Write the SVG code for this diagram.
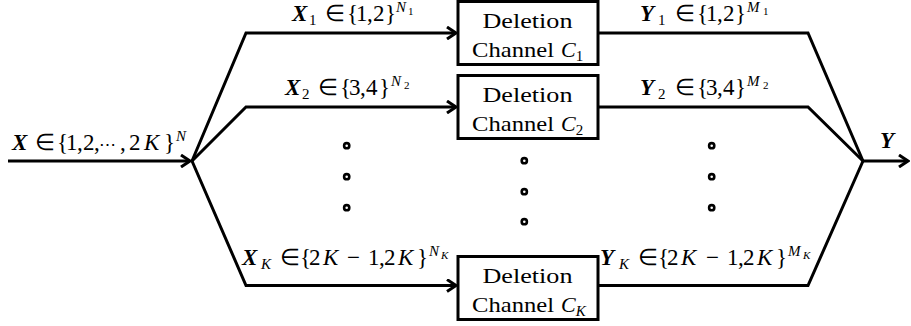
<svg xmlns="http://www.w3.org/2000/svg" width="911" height="326" viewBox="0 0 911 326">
<style>
.ln{fill:none;stroke:#000;stroke-width:3;stroke-linejoin:miter}
.box{fill:#fff;stroke:#000;stroke-width:3}
.bt{font-family:"Liberation Serif","Times New Roman",serif;font-size:22px;fill:#000}
.m{font-family:"Liberation Serif","Times New Roman",serif;font-size:23px;fill:#000}
.bi{font-weight:bold;font-style:italic}
.i{font-style:italic}
.s{font-size:15px}
.ss{font-size:11px}
.dot{fill:#fff;stroke:#000;stroke-width:2.6}
</style>
<defs>
<marker id="arr" markerWidth="12" markerHeight="14" refX="10" refY="7" orient="auto" markerUnits="userSpaceOnUse">
<path d="M1,1 L10,7 L1,13" fill="none" stroke="#000" stroke-width="3"/>
</marker>
</defs>
<g id="connectors">
<path class="ln" d="M8,161 H190" marker-end="url(#arr)"/>
<path class="ln" d="M192,161 L246,33 H456" marker-end="url(#arr)"/>
<path class="ln" d="M192,161 L246,107 H456" marker-end="url(#arr)"/>
<path class="ln" d="M192,161 L246,285.5 H456" marker-end="url(#arr)"/>
<path class="ln" d="M598,33 H808 L863,161"/>
<path class="ln" d="M598,107 H808 L863,161"/>
<path class="ln" d="M598,285.5 H808 L863,161"/>
<path class="ln" d="M863,161 H908" marker-end="url(#arr)"/>
</g>
<g id="ch1">
<rect class="box" x="458" y="1.5" width="140" height="63"/>
<text class="bt" x="527.5" y="28" text-anchor="middle" textLength="90" lengthAdjust="spacingAndGlyphs">Deletion</text>
<text class="bt" x="472" y="57"><tspan textLength="82" lengthAdjust="spacingAndGlyphs">Channel</tspan><tspan class="i" x="561">C</tspan><tspan class="s" y="61">1</tspan></text>
</g>
<g id="ch2">
<rect class="box" x="458" y="75.5" width="140" height="63"/>
<text class="bt" x="527.5" y="102" text-anchor="middle" textLength="90" lengthAdjust="spacingAndGlyphs">Deletion</text>
<text class="bt" x="472" y="131"><tspan textLength="82" lengthAdjust="spacingAndGlyphs">Channel</tspan><tspan class="i" x="561">C</tspan><tspan class="s" y="135">2</tspan></text>
</g>
<g id="chK">
<rect class="box" x="458" y="256.5" width="140" height="63"/>
<text class="bt" x="527.5" y="283" text-anchor="middle" textLength="90" lengthAdjust="spacingAndGlyphs">Deletion</text>
<text class="bt" x="472" y="312"><tspan textLength="82" lengthAdjust="spacingAndGlyphs">Channel</tspan><tspan class="i" x="561">C</tspan><tspan class="s i" y="316">K</tspan></text>
</g>
<g id="labels">
<text class="m" y="21"><tspan class="bi" x="292">X</tspan><tspan class="s" x="309" y="25">1</tspan><tspan x="325" y="21">∈</tspan><tspan x="347 356 367 373 385">{1,2}</tspan><tspan class="i s" x="396" y="12">N</tspan><tspan class="ss" x="408" y="15">1</tspan></text>
<text class="m" y="95"><tspan class="bi" x="285">X</tspan><tspan class="s" x="302" y="99">2</tspan><tspan x="318" y="95">∈</tspan><tspan x="340 349 360 366 379">{3,4}</tspan><tspan class="i s" x="391" y="86">N</tspan><tspan class="ss" x="404" y="89">2</tspan></text>
<text class="m" y="150"><tspan class="bi" x="12">X</tspan><tspan x="35">∈</tspan><tspan x="57 66 77 83 94">{1,2,</tspan><tspan x="99" font-size="17">⋯</tspan><tspan x="120">,</tspan><tspan x="129">2</tspan><tspan class="i" x="144">K</tspan><tspan x="164">}</tspan><tspan class="i s" x="176" y="141">N</tspan></text>
<text class="m" y="265"><tspan class="bi" x="242">X</tspan><tspan class="i s" x="261" y="269">K</tspan><tspan x="280" y="265">∈</tspan><tspan x="300 309">{2</tspan><tspan class="i" x="323">K</tspan><tspan x="347">−</tspan><tspan x="368 379 384">1,2</tspan><tspan class="i" x="398">K</tspan><tspan x="417">}</tspan><tspan class="i s" x="429" y="256">N</tspan><tspan class="i ss" x="441" y="259">K</tspan></text>
<text class="m" y="21"><tspan class="bi" x="640">Y</tspan><tspan class="s" x="658" y="25">1</tspan><tspan x="675" y="21">∈</tspan><tspan x="697 706 717 723 735">{1,2}</tspan><tspan class="i s" x="747" y="12">M</tspan><tspan class="ss" x="763" y="15">1</tspan></text>
<text class="m" y="95"><tspan class="bi" x="640">Y</tspan><tspan class="s" x="658" y="99">2</tspan><tspan x="675" y="95">∈</tspan><tspan x="697 706 717 723 735">{3,4}</tspan><tspan class="i s" x="747" y="86">M</tspan><tspan class="ss" x="763" y="89">2</tspan></text>
<text class="m" y="265"><tspan class="bi" x="600">Y</tspan><tspan class="i s" x="619" y="269">K</tspan><tspan x="638" y="265">∈</tspan><tspan x="658 667">{2</tspan><tspan class="i" x="681">K</tspan><tspan x="706">−</tspan><tspan x="727 738 743">1,2</tspan><tspan class="i" x="757">K</tspan><tspan x="776">}</tspan><tspan class="i s" x="788" y="256">M</tspan><tspan class="i ss" x="803" y="259">K</tspan></text>
<text class="m bi" x="880" y="148">Y</text>
</g>
<g id="dots">
<circle class="dot" cx="346.7" cy="145.7" r="2.6"/>
<circle class="dot" cx="346.7" cy="176.7" r="2.6"/>
<circle class="dot" cx="346.7" cy="207.7" r="2.6"/>
<circle class="dot" cx="524.3" cy="160.7" r="2.6"/>
<circle class="dot" cx="524.3" cy="191.7" r="2.6"/>
<circle class="dot" cx="524.3" cy="221.7" r="2.6"/>
<circle class="dot" cx="711.7" cy="145.7" r="2.6"/>
<circle class="dot" cx="711.7" cy="176.7" r="2.6"/>
<circle class="dot" cx="711.7" cy="207.7" r="2.6"/>
</g>
</svg>
